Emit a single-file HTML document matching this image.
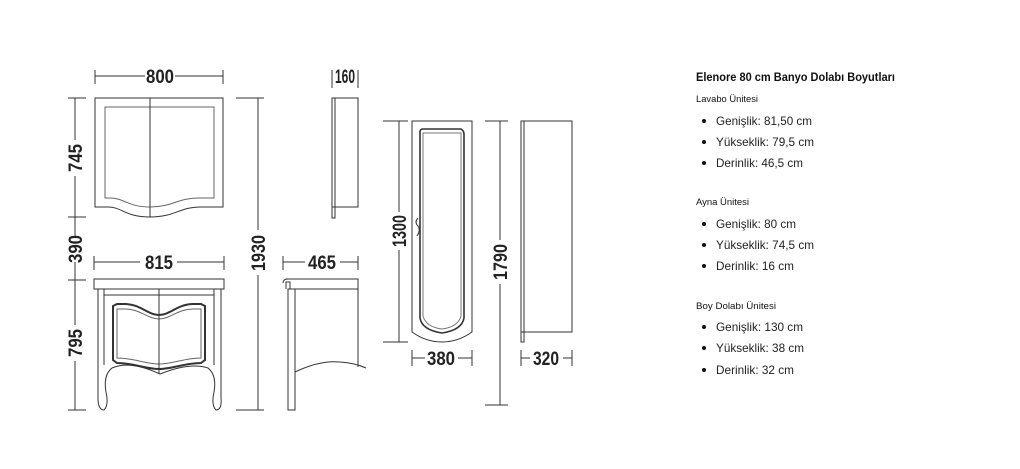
<!DOCTYPE html>
<html><head><meta charset="utf-8"><style>
html,body{margin:0;padding:0;background:#fff;}
svg{display:block}
.d{font-family:"Liberation Sans Narrow","Liberation Sans",sans-serif;font-weight:bold;font-size:19px;fill:#222}
.t{font-family:"Liberation Sans",sans-serif;fill:#111}
</style></head><body>
<svg width="1020" height="469" viewBox="0 0 1020 469" xmlns="http://www.w3.org/2000/svg">
<g stroke="#333" stroke-width="1" fill="none">
<!-- mirror front -->
<path d="M95 98H223V207H200C180 207 175 217 150 217C125 217 122 207 108 207H95Z"/>
<path d="M105 107H214V198H198C178 198 172 207 150 207C128 207 124 198 110 198H105Z" stroke="#666"/>
<line x1="150" y1="98" x2="150" y2="217"/>
<!-- 800 dim -->
<line x1="95" y1="76" x2="145" y2="76"/><line x1="175" y1="76" x2="223" y2="76"/>
<line x1="95" y1="70" x2="95" y2="84"/><line x1="223" y1="70" x2="223" y2="84"/>
<!-- left vertical -->
<line x1="75" y1="98" x2="75" y2="140"/><line x1="75" y1="176" x2="75" y2="236"/><line x1="75" y1="262" x2="75" y2="325"/><line x1="75" y1="361" x2="75" y2="410"/>
<line x1="68" y1="98" x2="86" y2="98"/><line x1="68" y1="217" x2="86" y2="217"/><line x1="68" y1="280" x2="86" y2="280"/><line x1="68" y1="410" x2="86" y2="410"/>
<!-- 1930 -->
<line x1="258" y1="98" x2="258" y2="230"/><line x1="258" y1="275" x2="258" y2="410"/>
<line x1="236" y1="98" x2="264" y2="98"/><line x1="236" y1="410" x2="264" y2="410"/>
<!-- mirror side -->
<rect x="332" y="98" width="26" height="109"/><path d="M332 98V218H335V207"/><line x1="335" y1="98" x2="335" y2="207"/>
<line x1="332" y1="70" x2="332" y2="88"/><line x1="358" y1="70" x2="358" y2="88"/>
<!-- vanity front -->
<rect x="94" y="279" width="130" height="10"/>
<path d="M98 289V398Q98 410 104 410Q109 405 106 392Q103 375 112 368Q130 360 160 374Q190 362 208 368Q217 375 214 392Q211 405 216 410Q222 410 221 398V289"/>
<path d="M104 289V365M214 289V365M104 295H214"/>
<path d="M113 306L117 304H125C140 304 148 315 159 315C170 315 178 304 193 304H201L205 306V360L201 363C185 363 172 369 159 369C146 369 133 363 117 363L113 360Z" stroke-width="2"/>
<path d="M117 309H125C140 309 148 319 159 319C170 319 178 309 193 309H201V358C185 358 172 364 159 364C146 364 133 358 117 358Z" stroke="#666"/>
<line x1="159" y1="289" x2="159" y2="374"/>
<line x1="94" y1="262" x2="140" y2="262"/><line x1="177" y1="262" x2="224" y2="262"/>
<line x1="94" y1="256" x2="94" y2="270"/><line x1="224" y1="256" x2="224" y2="270"/>
<!-- vanity side -->
<path d="M286 279H358V289H290V282H286V289M290 289"/>
<path d="M283 283Q283 279 288 279"/>
<rect x="288" y="289" width="7" height="121"/>
<path d="M358 289V367M295 372Q320 360 340 362Q355 363 366 368"/>
<line x1="283" y1="262" x2="305" y2="262"/><line x1="340" y1="262" x2="358" y2="262"/>
<line x1="283" y1="256" x2="283" y2="270"/><line x1="358" y1="256" x2="358" y2="270"/>
<!-- tall front -->
<path d="M412 121H472V332Q458 342 442 342Q426 342 412 332Z"/>
<path d="M420 132Q420 129 423 129H461Q464 131 464 134V318Q462 330 442 333Q422 330 420 318Z" stroke-width="1.6"/>
<path d="M423 133H461V316Q458 327 442 329Q426 327 423 316Z" stroke="#777"/>
<path d="M418 218Q414 222 418 226Q421 230 417 236" />
<line x1="399" y1="121" x2="399" y2="212"/><line x1="399" y1="250" x2="399" y2="342"/>
<line x1="383" y1="121" x2="408" y2="121"/><line x1="383" y1="342" x2="408" y2="342"/>
<line x1="412" y1="358" x2="425" y2="358"/><line x1="458" y1="358" x2="472" y2="358"/>
<line x1="412" y1="350" x2="412" y2="366"/><line x1="472" y1="350" x2="472" y2="366"/>
<!-- 1790 -->
<line x1="500" y1="121" x2="500" y2="240"/><line x1="500" y1="284" x2="500" y2="405"/>
<line x1="485" y1="121" x2="508" y2="121"/><line x1="485" y1="405" x2="508" y2="405"/>
<!-- tall side -->
<rect x="521" y="121" width="51" height="211"/><path d="M521 332V342H524V121"/>
<line x1="521" y1="358" x2="530" y2="358"/><line x1="563" y1="358" x2="572" y2="358"/>
<line x1="521" y1="350" x2="521" y2="366"/><line x1="572" y1="350" x2="572" y2="366"/>
</g>
<g class="d">
<text x="160" y="83" text-anchor="middle" textLength="28" lengthAdjust="spacingAndGlyphs">800</text>
<text x="345" y="83" text-anchor="middle" textLength="20" lengthAdjust="spacingAndGlyphs">160</text>
<text x="159" y="269" text-anchor="middle" textLength="28" lengthAdjust="spacingAndGlyphs">815</text>
<text x="322" y="269" text-anchor="middle" textLength="28" lengthAdjust="spacingAndGlyphs">465</text>
<text x="441" y="365" text-anchor="middle" textLength="28" lengthAdjust="spacingAndGlyphs">380</text>
<text x="546" y="365" text-anchor="middle" textLength="26" lengthAdjust="spacingAndGlyphs">320</text>
<text transform="translate(82,158) rotate(-90)" text-anchor="middle" textLength="28" lengthAdjust="spacingAndGlyphs">745</text>
<text transform="translate(82,249) rotate(-90)" text-anchor="middle" textLength="28" lengthAdjust="spacingAndGlyphs">390</text>
<text transform="translate(82,343) rotate(-90)" text-anchor="middle" textLength="28" lengthAdjust="spacingAndGlyphs">795</text>
<text transform="translate(265,253) rotate(-90)" text-anchor="middle" textLength="36" lengthAdjust="spacingAndGlyphs">1930</text>
<text transform="translate(406,231) rotate(-90)" text-anchor="middle" textLength="32" lengthAdjust="spacingAndGlyphs">1300</text>
<text transform="translate(507,262) rotate(-90)" text-anchor="middle" textLength="36" lengthAdjust="spacingAndGlyphs">1790</text>
</g>
<g class="t">
<text x="696" y="81" font-size="11.5" font-weight="bold" textLength="199" lengthAdjust="spacingAndGlyphs">Elenore 80 cm Banyo Dolabı Boyutları</text>
<text x="696" y="102" font-size="9" textLength="62" lengthAdjust="spacingAndGlyphs">Lavabo Ünitesi</text>
<text x="696" y="205" font-size="9" textLength="53" lengthAdjust="spacingAndGlyphs">Ayna Ünitesi</text>
<text x="696" y="309" font-size="9" textLength="80" lengthAdjust="spacingAndGlyphs">Boy Dolabı Ünitesi</text>
<g font-size="12" fill="#222">
<text x="716" y="125" textLength="96" lengthAdjust="spacingAndGlyphs">Genişlik: 81,50 cm</text>
<text x="716" y="146" textLength="98" lengthAdjust="spacingAndGlyphs">Yükseklik: 79,5 cm</text>
<text x="716" y="167" textLength="87" lengthAdjust="spacingAndGlyphs">Derinlik: 46,5 cm</text>
<text x="716" y="228" textLength="80" lengthAdjust="spacingAndGlyphs">Genişlik: 80 cm</text>
<text x="716" y="249" textLength="98" lengthAdjust="spacingAndGlyphs">Yükseklik: 74,5 cm</text>
<text x="716" y="270" textLength="78" lengthAdjust="spacingAndGlyphs">Derinlik: 16 cm</text>
<text x="716" y="331" textLength="87" lengthAdjust="spacingAndGlyphs">Genişlik: 130 cm</text>
<text x="716" y="352" textLength="88" lengthAdjust="spacingAndGlyphs">Yükseklik: 38 cm</text>
<text x="716" y="374" textLength="78" lengthAdjust="spacingAndGlyphs">Derinlik: 32 cm</text>
</g>
<g fill="#111">
<circle cx="704" cy="121" r="2"/><circle cx="704" cy="142" r="2"/><circle cx="704" cy="163" r="2"/>
<circle cx="704" cy="224" r="2"/><circle cx="704" cy="245" r="2"/><circle cx="704" cy="266" r="2"/>
<circle cx="704" cy="327" r="2"/><circle cx="704" cy="348" r="2"/><circle cx="704" cy="370" r="2"/>
</g>
</g>
</svg>
</body></html>
